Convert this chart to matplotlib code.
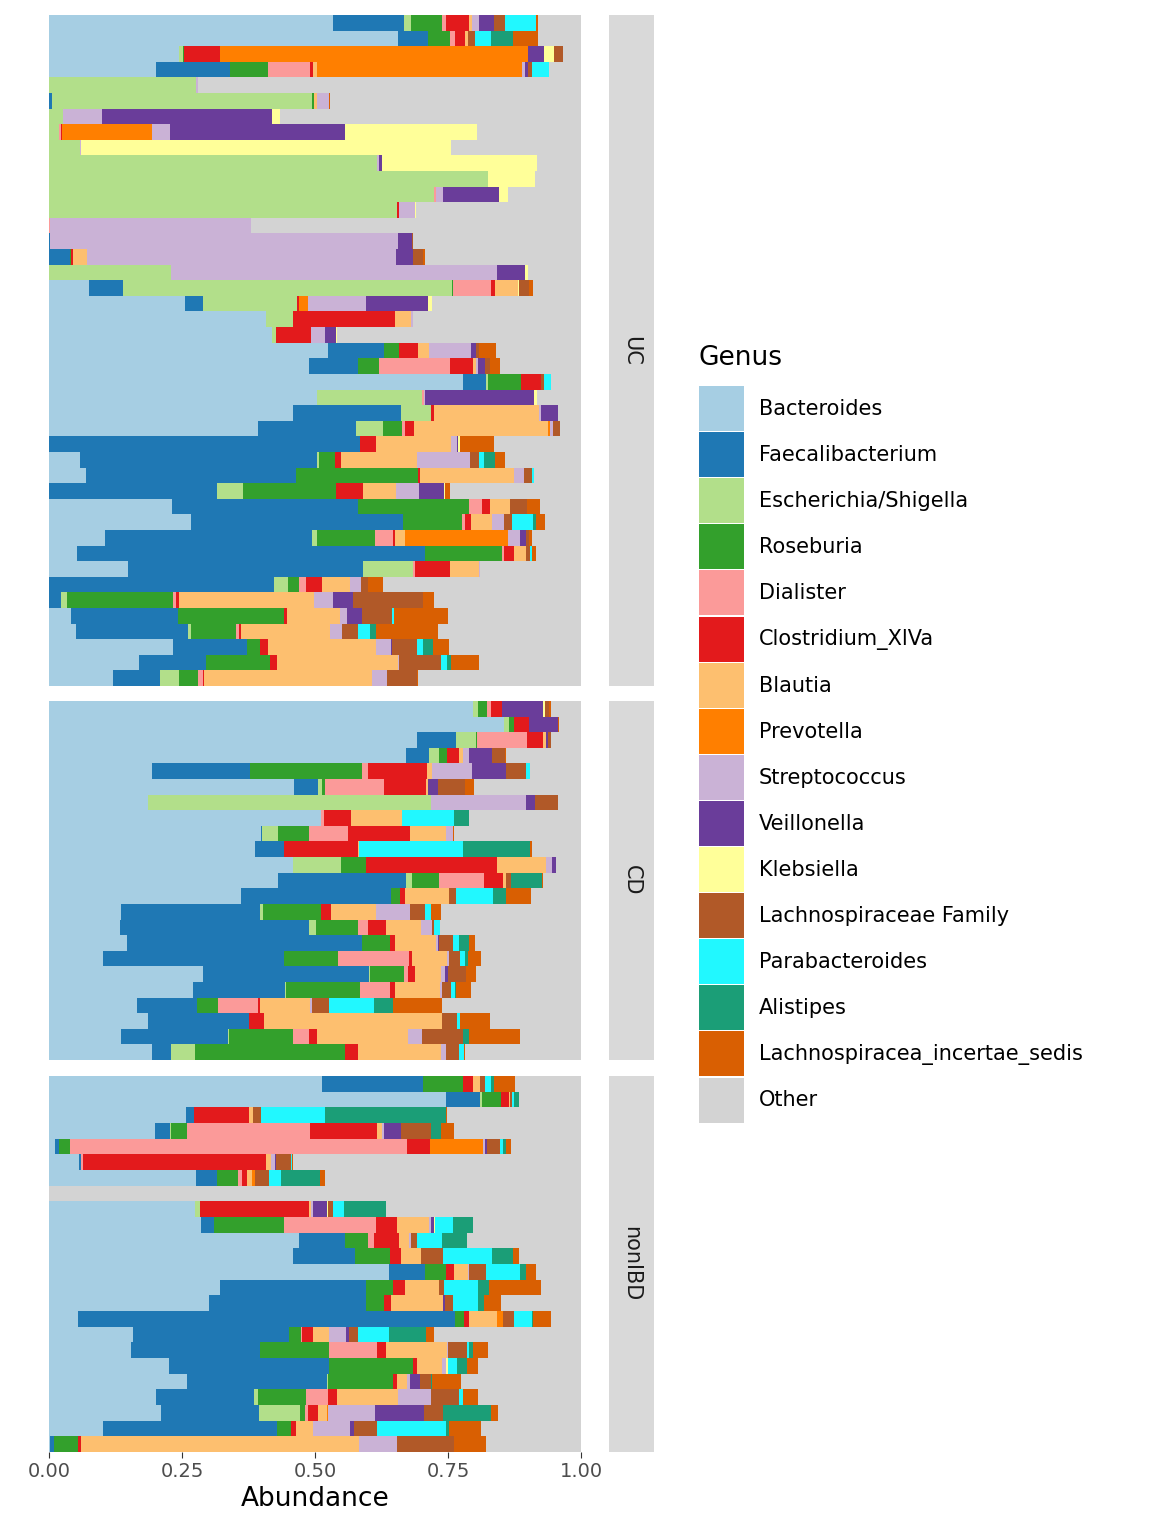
import matplotlib
matplotlib.use("Agg")
import matplotlib.pyplot as plt
from matplotlib.patches import Rectangle

GENERA = ["Bacteroides", "Faecalibacterium", "Escherichia/Shigella", "Roseburia",
          "Dialister", "Clostridium_XlVa", "Blautia", "Prevotella", "Streptococcus",
          "Veillonella", "Klebsiella", "Lachnospiraceae Family", "Parabacteroides",
          "Alistipes", "Lachnospiracea_incertae_sedis", "Other"]
CODES = ["B", "F", "E", "R", "D", "C", "Bl", "P", "S", "V", "K", "L", "Pa", "A", "I"]
COLORS = ["#A6CEE3", "#1F78B4", "#B2DF8A", "#33A02C", "#FB9A99", "#E31A1C", "#FDBF6F",
          "#FF7F00", "#CAB2D6", "#6A3D9A", "#FFFF99", "#B15928", "#21F8FF", "#1B9E77",
          "#D95F02", "#D3D3D3"]

# abundance per sample, top row first
UC = [
    "B.533 F.135 E.013 R.058 D.008 C.043 Bl.005 S.014 V.028 L.02 Pa.059 I.003",
    "B.656 F.057 R.041 D.009 C.019 Bl.006 L.013 Pa.03 A.042 I.046",
    "B.245 E.006 R.002 C.068 P.579 V.03 K.02 L.017",
    "B.202 F.139 R.071 D.079 C.006 Bl.006 P.386 S.006 V.005 L.008 Pa.032",
    "E.277 S.004",
    "F.005 E.49 R.004 Bl.004 S.024 I.002",
    "E.026 S.073 V.321 K.015",
    "E.018 D.004 C.002 P.169 S.034 V.33 K.248",
    "E.059 S.001 K.696",
    "E.617 S.004 V.004 K.292",
    "E.826 K.087",
    "E.724 D.003 S.014 V.105 K.017",
    "E.655 C.002 S.031 K.001",
    "D.001 S.379",
    "F.001 S.655 V.027 L.001",
    "F.039 R.002 C.005 Bl.025 S.582 V.032 L.018 I.004",
    "E.229 S.613 V.053 K.005",
    "B.076 F.064 E.618 R.002 D.071 C.008 Bl.043 K.002 L.018 I.008",
    "B.255 F.034 E.178 C.002 P.017 S.11 V.117 K.007",
    "B.407 E.051 C.193 Bl.03 S.004",
    "B.419 E.008 C.066 S.026 V.021 K.002",
    "B.525 F.104 R.029 C.036 Bl.021 S.079 V.009 L.006 I.031",
    "B.488 F.092 R.041 D.133 C.043 Bl.006 S.004 V.013 L.009 I.019",
    "B.778 F.044 E.003 R.062 C.038 L.005 Pa.013",
    "B.503 E.199 D.003 S.002 V.205 K.005",
    "B.458 F.204 E.056 C.006 Bl.197 S.004 V.032",
    "B.392 F.186 E.05 R.036 D.006 C.017 Bl.251 P.003 S.007 L.012",
    "F.585 Pa.001 C.029 Bl.141 S.011 V.003 K.003 I.064",
    "B.058 F.446 E.003 R.031 C.01 Bl.144 S.1 L.017 Pa.009 A.021 I.018",
    "B.069 F.396 R.229 C.003 Bl.177 S.019 L.015 Pa.003",
    "F.315 E.049 R.176 C.051 Bl.062 S.043 V.047 K.002 I.009",
    "B.232 F.348 R.21 D.024 C.015 Bl.038 L.032 I.024",
    "B.266 F.4 R.111 D.005 C.012 Bl.039 S.022 L.015 Pa.04 A.006 I.016",
    "B.105 F.39 E.009 R.109 D.034 C.004 Bl.019 P.193 S.022 V.012 L.005 I.006",
    "B.052 F.655 R.145 D.003 C.019 Bl.023 L.007 Pa.004 I.008",
    "B.148 F.443 E.094 D.003 C.066 Bl.055 S.001",
    "F.422 E.028 R.019 D.015 C.03 Bl.052 S.021 L.013 I.028",
    "F.022 E.011 R.201 D.004 C.007 Bl.254 S.035 V.038 L.131 I.021",
    "B.041 F.201 R.199 C.007 Bl.099 S.014 V.028 L.056 Pa.004 I.101",
    "B.05 F.212 E.004 R.086 D.006 C.002 Bl.169 S.022 L.029 Pa.024 A.011 I.116",
    "B.234 F.139 R.023 C.016 Bl.203 S.028 V.002 L.047 Pa.011 A.019 I.03",
    "B.17 F.126 R.12 C.013 Bl.227 S.002 L.079 Pa.011 A.008 I.053",
    "B.12 F.088 E.036 R.037 D.009 C.002 Bl.315 S.029 L.056 I.002",
]
CD = [
    "B.797 E.01 R.017 D.007 C.021 V.077 K.003 L.007 I.004",
    "B.855 E.01 R.009 C.028 V.055 I.001",
    "B.692 F.073 E.038 R.001 D.094 C.03 Bl.007 V.003 L.006",
    "B.671 F.044 E.018 R.015 C.023 Bl.007 S.012 V.043 L.024 I.002",
    "B.193 F.184 R.212 D.011 C.111 Bl.009 S.075 V.064 L.038 Pa.007",
    "B.461 F.045 E.008 R.005 D.111 C.079 Bl.004 V.019 L.05 I.017",
    "B.187 E.531 S.179 V.017 L.043",
    "B.512 D.004 C.051 Bl.097 Pa.098 A.028",
    "B.399 F.002 E.029 R.058 D.074 C.116 Bl.068 S.013 I.002",
    "B.388 F.053 C.139 Bl.003 Pa.196 A.126 I.002",
    "B.458 E.091 R.047 C.246 Bl.092 S.012 V.007",
    "B.431 F.24 E.012 R.05 D.085 C.036 Bl.005 L.009 A.059 I.001",
    "B.36 F.283 R.017 C.01 Bl.082 L.013 Pa.07 A.024 I.047",
    "B.135 F.261 E.007 R.109 C.019 Bl.084 S.064 L.028 Pa.011 I.019",
    "B.133 F.356 E.012 R.079 D.02 C.034 Bl.066 S.02 L.004 Pa.011",
    "B.146 F.443 R.052 C.01 Bl.077 S.004 V.002 L.026 Pa.011 A.019 I.011",
    "B.101 F.34 R.103 D.133 C.006 Bl.065 S.004 L.021 Pa.009 A.005 I.025",
    "B.289 F.313 E.002 R.064 D.007 C.013 Bl.049 S.008 V.005 L.034 I.019",
    "B.27 F.174 E.002 R.139 D.056 C.01 Bl.084 S.004 L.017 Pa.007 A.002 I.029",
    "B.165 F.114 R.038 D.075 C.005 Bl.094 S.004 L.032 Pa.083 A.037 I.092",
    "B.187 F.188 C.03 Bl.334 L.028 Pa.006 I.056",
    "B.135 F.202 E.002 R.119 D.03 C.015 Bl.172 S.027 L.076 A.012 I.095",
    "B.193 F.036 E.045 R.283 C.024 Bl.156 S.01 L.024 Pa.009 I.002",
]
NONIBD = [
    "B.514 F.189 R.075 C.019 Bl.013 L.01 Pa.011 A.006 I.039",
    "B.747 F.063 E.004 R.036 C.015 Bl.002 L.003 Pa.004 A.01",
    "B.257 F.016 C.102 Bl.009 L.015 Pa.119 A.229 I.001",
    "B.2 F.027 E.002 R.03 D.232 C.126 Bl.008 S.005 V.032 L.056 A.019 I.025",
    "B.011 F.007 R.021 D.634 C.044 P.099 S.004 V.004 L.024 Pa.006 A.005 I.01",
    "B.056 F.004 D.003 C.344 Bl.011 S.006 V.002 L.028 Pa.002 I.003",
    "B.277 F.038 R.041 D.006 C.011 Bl.009 P.006 L.026 Pa.023 A.073 I.008",
    "",
    "B.274 E.009 C.206 Bl.004 S.004 V.026 K.002 L.008 Pa.022 A.079",
    "B.285 F.026 R.13 D.174 C.04 Bl.06 S.003 V.006 K.002 Pa.034 A.037",
    "B.469 F.088 R.043 D.011 C.047 Bl.019 S.004 L.011 Pa.047 A.047",
    "B.459 F.117 R.065 C.021 Bl.038 L.041 Pa.092 A.039 I.012",
    "B.64 F.067 R.04 C.015 Bl.026 S.002 L.032 Pa.063 A.011 I.019",
    "B.322 F.273 R.052 C.023 Bl.063 L.01 Pa.064 A.02 I.098",
    "B.3 F.296 R.034 C.013 Bl.098 V.003 L.016 Pa.047 A.011 I.032",
    "B.054 F.709 R.017 C.01 Bl.052 P.012 L.02 Pa.034 A.002 I.034",
    "B.157 F.295 R.021 D.003 C.021 Bl.03 S.032 V.004 L.017 Pa.06 A.069 I.015",
    "B.155 F.242 R.13 D.09 C.017 Bl.114 S.002 L.036 Pa.004 A.007 I.028",
    "B.225 F.302 R.158 C.007 Bl.047 S.008 K.003 Pa.017 A.019 I.021",
    "B.259 F.264 E.002 R.122 C.008 Bl.018 S.006 V.019 L.02 A.002 I.055",
    "B.202 F.184 E.006 R.092 D.041 C.017 Bl.114 S.062 L.053 Pa.007 I.028",
    "B.21 F.184 E.077 R.011 D.004 C.019 Bl.018 P.002 S.088 V.092 L.036 A.09 I.013",
    "B.101 F.328 R.025 C.011 Bl.032 S.069 V.008 L.043 Pa.13 A.005 I.06",
    "B.001 F.008 R.045 C.006 Bl.523 S.072 L.107 I.06",
]
GROUPS = [("UC", UC), ("CD", CD), ("nonIBD", NONIBD)]


def parse(row):
    vals = [0.0] * len(CODES)
    for tok in row.split():
        code, v = tok.split(".", 1)
        vals[CODES.index(code)] = float("0." + v)
    vals.append(max(0.0, 1.0 - sum(vals)))
    return vals


fig = plt.figure(figsize=(11.52, 15.36), dpi=100)
W, H = 1152.0, 1536.0
panels = [(15, 686), (701, 1060), (1076, 1452)]

for (name, rows), (top, bot) in zip(GROUPS, panels):
    ax = fig.add_axes([49 / W, 1 - bot / H, 532 / W, (bot - top) / H])
    n = len(rows)
    for i, row in enumerate(rows):
        y = n - 1 - i
        left = 0.0
        for g, v in enumerate(parse(row)):
            if v > 0:
                ax.barh(y, v, left=left, height=1.0, color=COLORS[g], linewidth=0)
            left += v
    ax.set_xlim(0, 1)
    ax.set_ylim(-0.5, n - 0.5)
    ax.set_yticks([])
    for s in ax.spines.values():
        s.set_visible(False)
    if name == "nonIBD":
        ax.set_xticks([0, 0.25, 0.5, 0.75, 1.0])
        ax.set_xticklabels(["0.00", "0.25", "0.50", "0.75", "1.00"])
        ax.tick_params(axis="x", length=4, color="#333333", labelcolor="#4d4d4d",
                       labelsize=14, pad=3)
        ax.set_xlabel("Abundance", fontsize=19, labelpad=4)
    else:
        ax.set_xticks([])
    # facet strip
    sx = fig.add_axes([609 / W, 1 - bot / H, 45 / W, (bot - top) / H])
    sx.set_facecolor("#D9D9D9")
    sx.set_xticks([]); sx.set_yticks([])
    for s in sx.spines.values():
        s.set_visible(False)
    sx.text(0.5, 0.5, name, rotation=-90, ha="center", va="center",
            fontsize=15, color="#1a1a1a", transform=sx.transAxes)

# legend
fig.text(698 / W, 1 - 358 / H, "Genus", fontsize=19, va="center", ha="left")
for g, (lab, col) in enumerate(zip(GENERA, COLORS)):
    y0 = 386 + g * 46.1
    fig.patches.append(Rectangle((699 / W, 1 - (y0 + 45) / H), 45 / W, 45 / H,
                                 transform=fig.transFigure, color=col, linewidth=0))
    fig.text(759 / W, 1 - (y0 + 23) / H, lab, fontsize=15, va="center", ha="left")

fig.savefig("out.png", dpi=100)
